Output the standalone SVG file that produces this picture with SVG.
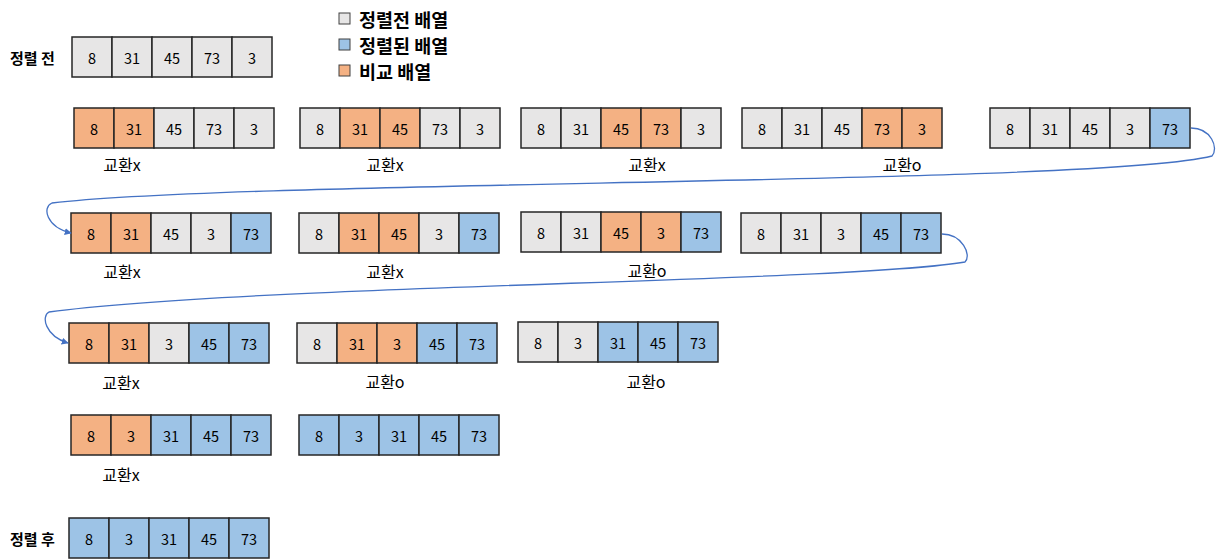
<svg xmlns="http://www.w3.org/2000/svg" width="1216" height="559" viewBox="0 0 1216 559">
<style>
text{font-family:"Noto Sans CJK KR","Liberation Sans",sans-serif;fill:#000}
.c rect{stroke:#262626;stroke-width:1.5}
.g{fill:#E7E6E6}.o{fill:#F4B183}.b{fill:#9DC3E6}
.n{font-size:14.5px;text-anchor:middle;dominant-baseline:central}
.l{font-size:16px;text-anchor:middle;dominant-baseline:central}
.h{font-size:15px;font-weight:bold;dominant-baseline:central}
.lg{font-size:18.5px;font-weight:bold;dominant-baseline:central}
.lk rect{stroke:#404040;stroke-width:1}
.cn{fill:none;stroke:#4472C4;stroke-width:1.3}
</style>
<defs>
<marker id="ah" viewBox="0 0 10 10" refX="9" refY="5" markerWidth="7" markerHeight="7" orient="auto" markerUnits="userSpaceOnUse"><path d="M0,0 L10,5 L0,10 z" fill="#4472C4"/></marker>
</defs>
<rect width="1216" height="559" fill="#fff"/>

<g id="legend" class="lk">
<rect x="339" y="13" width="11" height="11" class="g"/><text class="lg" x="359" y="19">정렬전 배열</text>
<rect x="339" y="39" width="11" height="11" class="b"/><text class="lg" x="359" y="45">정렬된 배열</text>
<rect x="339" y="65" width="11" height="11" class="o"/><text class="lg" x="359" y="71">비교 배열</text>
</g>

<g id="before" class="c">
<text class="h" x="10" y="57">정렬 전</text>
<rect x="72" y="37" width="40" height="40" class="g"/><rect x="112" y="37" width="40" height="40" class="g"/><rect x="152" y="37" width="40" height="40" class="g"/><rect x="192" y="37" width="40" height="40" class="g"/><rect x="232" y="37" width="40" height="40" class="g"/>
<text class="n" x="92" y="57">8</text><text class="n" x="132" y="57">31</text><text class="n" x="172" y="57">45</text><text class="n" x="212" y="57">73</text><text class="n" x="252" y="57">3</text>
</g>

<g id="a1" class="c">
<rect x="74" y="108" width="40" height="40" class="o"/><rect x="114" y="108" width="40" height="40" class="o"/><rect x="154" y="108" width="40" height="40" class="g"/><rect x="194" y="108" width="40" height="40" class="g"/><rect x="234" y="108" width="40" height="40" class="g"/>
<text class="n" x="94" y="128">8</text><text class="n" x="134" y="128">31</text><text class="n" x="174" y="128">45</text><text class="n" x="214" y="128">73</text><text class="n" x="254" y="128">3</text>
<text class="l" x="122" y="164">교환x</text>
</g>
<g id="a2" class="c">
<rect x="300" y="108" width="40" height="40" class="g"/><rect x="340" y="108" width="40" height="40" class="o"/><rect x="380" y="108" width="40" height="40" class="o"/><rect x="420" y="108" width="40" height="40" class="g"/><rect x="460" y="108" width="40" height="40" class="g"/>
<text class="n" x="320" y="128">8</text><text class="n" x="360" y="128">31</text><text class="n" x="400" y="128">45</text><text class="n" x="440" y="128">73</text><text class="n" x="480" y="128">3</text>
<text class="l" x="385" y="164">교환x</text>
</g>
<g id="a3" class="c">
<rect x="521" y="108" width="40" height="40" class="g"/><rect x="561" y="108" width="40" height="40" class="g"/><rect x="601" y="108" width="40" height="40" class="o"/><rect x="641" y="108" width="40" height="40" class="o"/><rect x="681" y="108" width="40" height="40" class="g"/>
<text class="n" x="541" y="128">8</text><text class="n" x="581" y="128">31</text><text class="n" x="621" y="128">45</text><text class="n" x="661" y="128">73</text><text class="n" x="701" y="128">3</text>
<text class="l" x="647" y="164">교환x</text>
</g>
<g id="a4" class="c">
<rect x="742" y="108" width="40" height="40" class="g"/><rect x="782" y="108" width="40" height="40" class="g"/><rect x="822" y="108" width="40" height="40" class="g"/><rect x="862" y="108" width="40" height="40" class="o"/><rect x="902" y="108" width="40" height="40" class="o"/>
<text class="n" x="762" y="128">8</text><text class="n" x="802" y="128">31</text><text class="n" x="842" y="128">45</text><text class="n" x="882" y="128">73</text><text class="n" x="922" y="128">3</text>
<text class="l" x="902" y="164">교환o</text>
</g>
<g id="a5" class="c">
<rect x="990" y="108" width="40" height="40" class="g"/><rect x="1030" y="108" width="40" height="40" class="g"/><rect x="1070" y="108" width="40" height="40" class="g"/><rect x="1110" y="108" width="40" height="40" class="g"/><rect x="1150" y="108" width="40" height="40" class="b"/>
<text class="n" x="1010" y="128">8</text><text class="n" x="1050" y="128">31</text><text class="n" x="1090" y="128">45</text><text class="n" x="1130" y="128">3</text><text class="n" x="1170" y="128">73</text>
</g>

<g id="b1" class="c">
<rect x="71" y="213" width="40" height="40" class="o"/><rect x="111" y="213" width="40" height="40" class="o"/><rect x="151" y="213" width="40" height="40" class="g"/><rect x="191" y="213" width="40" height="40" class="g"/><rect x="231" y="213" width="40" height="40" class="b"/>
<text class="n" x="91" y="233">8</text><text class="n" x="131" y="233">31</text><text class="n" x="171" y="233">45</text><text class="n" x="211" y="233">3</text><text class="n" x="251" y="233">73</text>
<text class="l" x="122" y="271">교환x</text>
</g>
<g id="b2" class="c">
<rect x="299" y="213" width="40" height="40" class="g"/><rect x="339" y="213" width="40" height="40" class="o"/><rect x="379" y="213" width="40" height="40" class="o"/><rect x="419" y="213" width="40" height="40" class="g"/><rect x="459" y="213" width="40" height="40" class="b"/>
<text class="n" x="319" y="233">8</text><text class="n" x="359" y="233">31</text><text class="n" x="399" y="233">45</text><text class="n" x="439" y="233">3</text><text class="n" x="479" y="233">73</text>
<text class="l" x="385" y="271">교환x</text>
</g>
<g id="b3" class="c">
<rect x="521" y="212" width="40" height="40" class="g"/><rect x="561" y="212" width="40" height="40" class="g"/><rect x="601" y="212" width="40" height="40" class="o"/><rect x="641" y="212" width="40" height="40" class="o"/><rect x="681" y="212" width="40" height="40" class="b"/>
<text class="n" x="541" y="232">8</text><text class="n" x="581" y="232">31</text><text class="n" x="621" y="232">45</text><text class="n" x="661" y="232">3</text><text class="n" x="701" y="232">73</text>
<text class="l" x="647" y="270">교환o</text>
</g>
<g id="b4" class="c">
<rect x="741" y="213" width="40" height="40" class="g"/><rect x="781" y="213" width="40" height="40" class="g"/><rect x="821" y="213" width="40" height="40" class="g"/><rect x="861" y="213" width="40" height="40" class="b"/><rect x="901" y="213" width="40" height="40" class="b"/>
<text class="n" x="761" y="233">8</text><text class="n" x="801" y="233">31</text><text class="n" x="841" y="233">3</text><text class="n" x="881" y="233">45</text><text class="n" x="921" y="233">73</text>
</g>

<g id="c1" class="c">
<rect x="69" y="323" width="40" height="40" class="o"/><rect x="109" y="323" width="40" height="40" class="o"/><rect x="149" y="323" width="40" height="40" class="g"/><rect x="189" y="323" width="40" height="40" class="b"/><rect x="229" y="323" width="40" height="40" class="b"/>
<text class="n" x="89" y="343">8</text><text class="n" x="129" y="343">31</text><text class="n" x="169" y="343">3</text><text class="n" x="209" y="343">45</text><text class="n" x="249" y="343">73</text>
<text class="l" x="121" y="382">교환x</text>
</g>
<g id="c2" class="c">
<rect x="297" y="323" width="40" height="40" class="g"/><rect x="337" y="323" width="40" height="40" class="o"/><rect x="377" y="323" width="40" height="40" class="o"/><rect x="417" y="323" width="40" height="40" class="b"/><rect x="457" y="323" width="40" height="40" class="b"/>
<text class="n" x="317" y="343">8</text><text class="n" x="357" y="343">31</text><text class="n" x="397" y="343">3</text><text class="n" x="437" y="343">45</text><text class="n" x="477" y="343">73</text>
<text class="l" x="385" y="381">교환o</text>
</g>
<g id="c3" class="c">
<rect x="518" y="322" width="40" height="40" class="g"/><rect x="558" y="322" width="40" height="40" class="g"/><rect x="598" y="322" width="40" height="40" class="b"/><rect x="638" y="322" width="40" height="40" class="b"/><rect x="678" y="322" width="40" height="40" class="b"/>
<text class="n" x="538" y="342">8</text><text class="n" x="578" y="342">3</text><text class="n" x="618" y="342">31</text><text class="n" x="658" y="342">45</text><text class="n" x="698" y="342">73</text>
<text class="l" x="646" y="381">교환o</text>
</g>

<g id="d1" class="c">
<rect x="71" y="415" width="40" height="40" class="o"/><rect x="111" y="415" width="40" height="40" class="o"/><rect x="151" y="415" width="40" height="40" class="b"/><rect x="191" y="415" width="40" height="40" class="b"/><rect x="231" y="415" width="40" height="40" class="b"/>
<text class="n" x="91" y="435">8</text><text class="n" x="131" y="435">3</text><text class="n" x="171" y="435">31</text><text class="n" x="211" y="435">45</text><text class="n" x="251" y="435">73</text>
<text class="l" x="121" y="474">교환x</text>
</g>
<g id="d2" class="c">
<rect x="299" y="415" width="40" height="40" class="b"/><rect x="339" y="415" width="40" height="40" class="b"/><rect x="379" y="415" width="40" height="40" class="b"/><rect x="419" y="415" width="40" height="40" class="b"/><rect x="459" y="415" width="40" height="40" class="b"/>
<text class="n" x="319" y="435">8</text><text class="n" x="359" y="435">3</text><text class="n" x="399" y="435">31</text><text class="n" x="439" y="435">45</text><text class="n" x="479" y="435">73</text>
</g>

<g id="after" class="c">
<text class="h" x="10" y="538">정렬 후</text>
<rect x="69" y="518" width="40" height="40" class="b"/><rect x="109" y="518" width="40" height="40" class="b"/><rect x="149" y="518" width="40" height="40" class="b"/><rect x="189" y="518" width="40" height="40" class="b"/><rect x="229" y="518" width="40" height="40" class="b"/>
<text class="n" x="89" y="538">8</text><text class="n" x="129" y="538">3</text><text class="n" x="169" y="538">31</text><text class="n" x="209" y="538">45</text><text class="n" x="249" y="538">73</text>
</g>

<g id="connectors">
<path class="cn" marker-end="url(#ah)" d="M1191,128 C1211,128 1219,148 1212,156 C1100,185 250,180 52,203 C42,207 46,227 71,233"/>
<path class="cn" marker-end="url(#ah)" d="M942,234 C962,234 972,255 965,262 C850,282 250,285 49,312 C41,316 45,336 68,343"/>
</g>
</svg>
